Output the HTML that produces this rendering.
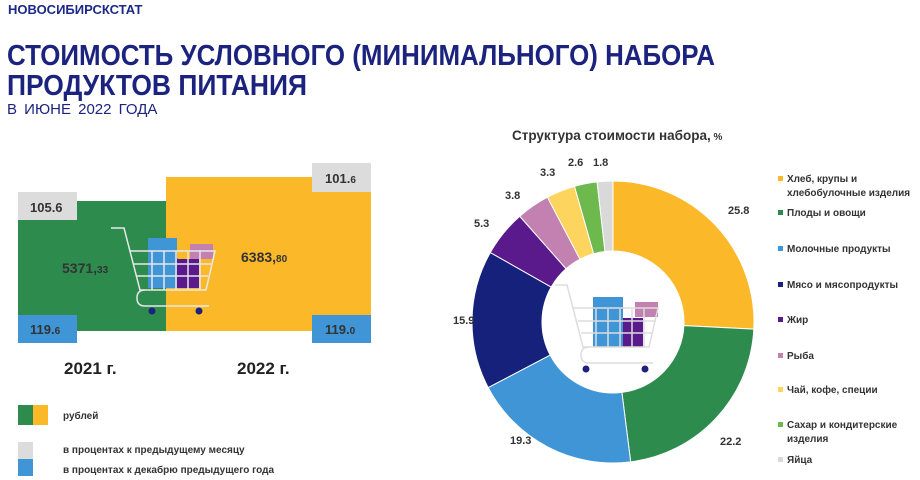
<!DOCTYPE html>
<html><head><meta charset="utf-8"><style>
body{margin:0;width:920px;height:480px;background:#fff;overflow:hidden;font-family:"Liberation Sans",sans-serif}
svg{position:absolute;left:0;top:0}
</style></head><body>
<svg width="920" height="480" viewBox="0 0 920 480" font-family="Liberation Sans, sans-serif">
<text x="8" y="14" font-size="13" font-weight="bold" fill="#1b2a8a">НОВОСИБИРСКСТАТ</text>
<text x="7" y="65" font-size="29" font-weight="bold" fill="#1b237e" textLength="708" lengthAdjust="spacingAndGlyphs">СТОИМОСТЬ УСЛОВНОГО (МИНИМАЛЬНОГО) НАБОРА</text>
<text x="7" y="95" font-size="29" font-weight="bold" fill="#1b237e" textLength="300" lengthAdjust="spacingAndGlyphs">ПРОДУКТОВ ПИТАНИЯ</text>
<text x="7" y="114" font-size="15" fill="#1b237e" word-spacing="3">В ИЮНЕ 2022 ГОДА</text>

<rect x="18" y="201" width="148" height="130" fill="#2e8b4e"/>
<rect x="166" y="177" width="205" height="154" fill="#fbb829"/>
<rect x="18" y="192" width="59" height="28" fill="#dcdcdc"/>
<text x="30" y="212" font-size="13" font-weight="bold" fill="#333">105.6</text>
<rect x="312" y="163" width="59" height="29" fill="#dcdcdc"/>
<text x="325" y="183" font-size="13" font-weight="bold" fill="#333">101.<tspan font-size="10">6</tspan></text>
<rect x="18" y="315" width="59" height="28" fill="#3f95d5"/>
<text x="30" y="334" font-size="13" font-weight="bold" fill="#333">119.<tspan font-size="10">6</tspan></text>
<rect x="312" y="315" width="59" height="28" fill="#3f95d5"/>
<text x="325" y="334" font-size="13" font-weight="bold" fill="#333">119.<tspan font-size="10">0</tspan></text>
<text x="62" y="273" font-size="14" font-weight="bold" fill="#333">5371,<tspan font-size="10">33</tspan></text>
<text x="241" y="262" font-size="14" font-weight="bold" fill="#333">6383,<tspan font-size="10">80</tspan></text>
<g>
<rect x="148" y="238" width="29" height="22" fill="#3f95d5"/>
<rect x="190" y="244" width="23" height="15" fill="#c281b0"/>
<rect x="148" y="258" width="30" height="30" fill="#3f95d5"/>
<rect x="177" y="259" width="22" height="29" fill="#5a1a8c"/>
<g stroke="#e8e8e8" stroke-width="1.5" fill="none">
<path d="M111 228 h13 l16 62 h66 l9 -39 h-85"/>
<path d="M133 264 h78 M136 276 h72 M152 251 v39 M164 251 v39 M176 251 v39 M188 251 v39 M200 251 v39"/>
<path d="M145 290 q-8 0 -8 8 q0 8 8 8 h64"/>
</g>
<circle cx="152" cy="311" r="3.5" fill="#1b237e"/><circle cx="199" cy="311" r="3.5" fill="#1b237e"/>
</g>
<text x="64" y="374" font-size="17" font-weight="bold" fill="#222">2021 г.</text>
<text x="237" y="374" font-size="17" font-weight="bold" fill="#222">2022 г.</text>
<rect x="18" y="405" width="15" height="20" fill="#2e8b4e"/><rect x="33" y="405" width="15" height="20" fill="#fbb829"/>
<text x="63" y="419" font-size="10" font-weight="bold" fill="#333">рублей</text>
<rect x="18" y="442" width="15" height="17" fill="#dcdcdc"/>
<text x="63" y="453" font-size="10" font-weight="bold" fill="#333">в процентах к предыдущему месяцу</text>
<rect x="18" y="459" width="15" height="17" fill="#3f95d5"/>
<text x="63" y="473" font-size="10" font-weight="bold" fill="#333">в процентах к декабрю предыдущего года</text>

<text x="512" y="140" font-size="13.5" font-weight="bold" fill="#333">Структура стоимости набора,<tspan font-size="10"> %</tspan></text>
<g id="donut"></g>
<g>
<rect x="593" y="297" width="30" height="22" fill="#3f95d5"/>
<rect x="635" y="302" width="23" height="15" fill="#c281b0"/>
<rect x="593" y="317" width="30" height="30" fill="#3f95d5"/>
<rect x="623" y="318" width="20" height="29" fill="#5a1a8c"/>
<g stroke="#dddddd" stroke-width="1.5" fill="none">
<path d="M555 285 h12 l16 62 h66 l9 -39 h-85"/>
<path d="M578 321 h78 M581 333 h72 M596 309 v38 M608 309 v38 M620 309 v38 M632 309 v38 M644 309 v38"/>
<path d="M589 347 q-8 0 -8 8 q0 8 8 8 h64"/>
</g>
<circle cx="586" cy="369" r="3.5" fill="#1b237e"/><circle cx="645" cy="369" r="3.5" fill="#1b237e"/>
</g>
<g font-size="11" font-weight="bold" fill="#333">
<text x="728" y="214">25.8</text>
<text x="720" y="445">22.2</text>
<text x="510" y="444">19.3</text>
<text x="453" y="324">15.9</text>
<text x="474" y="227">5.3</text>
<text x="505" y="199">3.8</text>
<text x="540" y="176">3.3</text>
<text x="568" y="166">2.6</text>
<text x="593" y="166">1.8</text>
</g>
<g font-size="10" font-weight="bold" fill="#333">
<rect x="778" y="176" width="5" height="5" fill="#fbb829"/><text x="787" y="182">Хлеб, крупы и</text><text x="787" y="196">хлебобулочные изделия</text>
<rect x="778" y="210" width="5" height="5" fill="#2e8b4e"/><text x="787" y="216">Плоды и овощи</text>
<rect x="778" y="246" width="5" height="5" fill="#3f95d5"/><text x="787" y="252">Молочные продукты</text>
<rect x="778" y="282" width="5" height="5" fill="#15217a"/><text x="787" y="288">Мясо и мясопродукты</text>
<rect x="778" y="317" width="5" height="5" fill="#5a1a8c"/><text x="787" y="323">Жир</text>
<rect x="778" y="353" width="5" height="5" fill="#c281b0"/><text x="787" y="359">Рыба</text>
<rect x="778" y="387" width="5" height="5" fill="#fcd45e"/><text x="787" y="393">Чай, кофе, специи</text>
<rect x="778" y="422" width="5" height="5" fill="#6db94e"/><text x="787" y="428">Сахар и кондитерские</text><text x="787" y="442">изделия</text>
<rect x="778" y="457" width="5" height="5" fill="#d9d9d9"/><text x="787" y="463">Яйца</text>
</g>
</svg>
<script>
var vals=[25.8,22.2,19.3,15.9,5.3,3.8,3.3,2.6,1.8];
var cols=["#fbb829","#2e8b4e","#3f95d5","#15217a","#5a1a8c","#c281b0","#fcd45e","#6db94e","#d9d9d9"];
var cx=613,cy=322,R=141,r=71,a=0,h="";
function pt(rad,ang){var t=ang/100*2*Math.PI;return [cx+rad*Math.sin(t),cy-rad*Math.cos(t)];}
for(var i=0;i<vals.length;i++){var b=a+vals[i],l=vals[i]>50?1:0;
var p1=pt(R,a),p2=pt(R,b),p3=pt(r,b),p4=pt(r,a);
h+='<path fill="'+cols[i]+'" stroke="#fff" stroke-width="1" d="M'+p1+' A'+R+' '+R+' 0 '+l+' 1 '+p2+' L'+p3+' A'+r+' '+r+' 0 '+l+' 0 '+p4+'Z"/>';a=b;}
document.getElementById("donut").innerHTML=h;
</script>
</body></html>
